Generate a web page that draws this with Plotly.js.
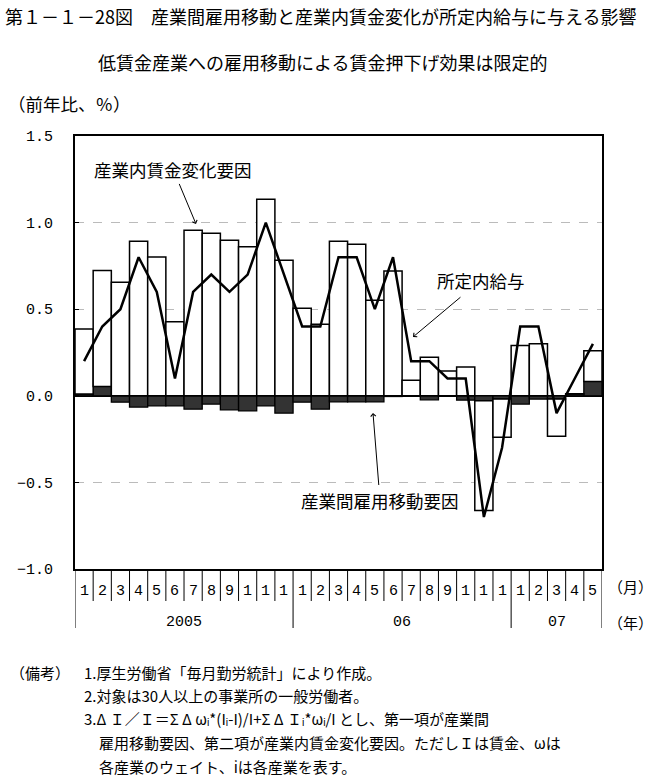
<!DOCTYPE html>
<html>
<head>
<meta charset="utf-8">
<script src="https://cdn.plot.ly/plotly-3.0.1.min.js"></script>
<style>
html,body{margin:0;padding:0;background:#fff;}
#chart{width:662px;height:780px;}
</style>
</head>
<body>
<div id="chart"></div>
<script>
// ---- data ----
const monthLabels = ['1','2','3','4','5','6','7','8','9','1','1','1',
                     '1','2','3','4','5','6','7','8','9','1','1','1',
                     '1','2','3','4','5'];
const yearLabels = ['2005','06','07'];
const yearSpans = [12, 12, 5];
// 産業間雇用移動要因
const shiftFactor = [0.01, 0.054, -0.037, -0.065, -0.058, -0.058, -0.077, -0.048, -0.081, -0.087, -0.058, -0.1,
                     -0.037, -0.077, -0.035, -0.035, -0.035, -0.004, -0.002, -0.023, -0.002, -0.025, -0.029, -0.019,
                     -0.048, -0.019, -0.019, 0.01, 0.083];
// 産業内賃金変化要因
const wageFactor = [0.375, 0.67, 0.656, 0.892, 0.802, 0.427, 0.956, 0.938, 0.898, 0.86, 1.135, 0.783,
                    0.506, 0.413, 0.892, 0.875, 0.552, 0.721, 0.09, 0.223, 0.143, 0.166, -0.633, -0.22,
                    0.29, 0.3, -0.215, 0.002, 0.177];
// 所定内給与
const scheduledWage = [0.2, 0.4, 0.5, 0.8, 0.6, 0.1, 0.6, 0.7, 0.6, 0.7, 1.0, 0.7,
                       0.4, 0.4, 0.8, 0.8, 0.5, 0.8, 0.2, 0.2, 0.1, 0.1, -0.7, -0.3,
                       0.4, 0.4, -0.1, 0.1, 0.3];

const idx = monthLabels.map((_, i) => i);

// ---- geometry helpers (pixel -> paper) ----
const L = 75, R = 602, T = 136, B = 569;
const px = x => (x - L) / (R - L);
const py = y => (B - y) / (B - T);

const JP = '"Noto Sans CJK JP", sans-serif';
const MONO = '"Liberation Mono", monospace';

const traces = [
  {type:'bar', x: idx, y: shiftFactor, width: 1,
   marker:{color:'#333333', line:{color:'#000', width:1.3}}, hoverinfo:'y', name:'産業間雇用移動要因'},
  {type:'bar', x: idx, y: wageFactor, width: 1,
   marker:{color:'#ffffff', line:{color:'#000', width:1.5}}, hoverinfo:'y', name:'産業内賃金変化要因'},
  {type:'scatter', mode:'lines', x: idx, y: scheduledWage,
   line:{color:'#000', width:2.5}, name:'所定内給与'}
];

const annotations = [];
const shapes = [];

// month labels
monthLabels.forEach((m, i) => {
  annotations.push({xref:'x', yref:'paper', x:i, y:py(591), text:m, showarrow:false,
    xanchor:'center', yanchor:'middle', font:{family:MONO, size:15, color:'#000'}});
});
// separators
let boundaries = new Set([-0.5]);
let acc = 0;
yearSpans.forEach(s => { acc += s; boundaries.add(acc - 0.5); });
for (let i = 0; i <= monthLabels.length; i++) {
  const xv = i - 0.5;
  const full = boundaries.has(xv);
  shapes.push({type:'line', xref:'x', yref:'paper', x0:xv, x1:xv, y0:0, y1: full ? py(628) : py(601),
    line:{color:'#000', width:1}});
}
// year labels
acc = 0;
yearLabels.forEach((y, k) => {
  const start = acc - 0.5, end = acc + yearSpans[k] - 0.5;
  acc += yearSpans[k];
  annotations.push({xref:'x', yref:'paper', x:(start + end) / 2, y:py(622), text:y, showarrow:false,
    xanchor:'center', yanchor:'middle', font:{family:MONO, size:15, color:'#000'}});
});
annotations.push({xref:'paper', yref:'paper', x:px(630), y:py(586), text:'（月）', showarrow:false,
  xanchor:'center', yanchor:'middle', font:{family:JP, size:15, color:'#000'}});
annotations.push({xref:'paper', yref:'paper', x:px(630), y:py(622), text:'（年）', showarrow:false,
  xanchor:'center', yanchor:'middle', font:{family:JP, size:15, color:'#000'}});

// subtitle & unit
annotations.push({xref:'paper', yref:'paper', x:px(322), y:py(62), text:'低賃金産業への雇用移動による賃金押下げ効果は限定的',
  showarrow:false, xanchor:'center', yanchor:'middle', font:{family:JP, size:18, color:'#000'}});
annotations.push({xref:'paper', yref:'paper', x:px(6), y:py(103), text:'（前年比、％）',
  showarrow:false, xanchor:'left', yanchor:'middle', font:{family:JP, size:17.5, color:'#000'}});

// callouts (text placed at arrow tail, arrow pointing to the head)
const callFont = {family:JP, size:17.5, color:'#000'};
function callout(text, tx, ty, hx, hy, standoff) {
  annotations.push({xref:'paper', yref:'paper', x:px(hx), y:py(hy), ax:tx - hx, ay:ty - hy,
    text:text, showarrow:true, arrowhead:4, arrowsize:1, arrowwidth:1, arrowcolor:'#000',
    startstandoff:standoff || 0, font:callFont});
}
callout('産業内賃金変化要因', 173, 169, 196, 224, 1);
callout('所定内給与', 481, 280, 413, 337, 5);
callout('産業間雇用移動要因', 380, 500, 373, 413, 1);

// notes
const noteFont = {family:JP, size:15, color:'#000'};
const notes = [
  [8, 672, '（備考）'],
  [82, 672, '1.厚生労働省「毎月勤労統計」により作成。'],
  [82, 695, '2.対象は30人以上の事業所の一般労働者。'],
  [82, 718, '3.Δ Ｉ／Ｉ＝Σ Δ ωᵢ*(Iᵢ-I)/I+Σ Δ Ｉᵢ*ωᵢ/I とし、第一項が産業間'],
  [97, 742, '雇用移動要因、第二項が産業内賃金変化要因。ただしＩは賃金、ωは'],
  [97, 766, '各産業のウェイト、iは各産業を表す。']
];
notes.forEach(n => annotations.push({xref:'paper', yref:'paper', x:px(n[0]), y:py(n[1]), text:n[2],
  showarrow:false, xanchor:'left', yanchor:'middle', font:noteFont}));

const layout = {
  width:662, height:780,
  margin:{l:L, r:662 - R, t:T, b:780 - B, pad:0},
  paper_bgcolor:'#fff', plot_bgcolor:'#fff',
  showlegend:false,
  barmode:'relative', bargap:0,
  title:{text:'第１－１－28図　産業間雇用移動と産業内賃金変化が所定内給与に与える影響',
    x:5/662, xanchor:'left', y:1 - 18/780, yanchor:'middle',
    font:{family:JP, size:18, color:'#000'}},
  xaxis:{range:[-0.5, monthLabels.length - 0.5], showticklabels:false, ticks:'',
    showline:true, mirror:true, linecolor:'#000', linewidth:2, showgrid:false, zeroline:false, fixedrange:true},
  yaxis:{range:[-1, 1.5], tick0:0, dtick:0.5, tickformat:'.1f', ticks:'inside', ticklen:4, tickcolor:'#000',
    showline:true, mirror:true, linecolor:'#000', linewidth:2,
    showgrid:true, gridcolor:'#bbbbbb', griddash:'dash', gridwidth:1,
    zeroline:true, zerolinecolor:'#000', zerolinewidth:2,
    ticklabelstandoff:17, tickfont:{family:MONO, size:15, color:'#000'}, fixedrange:true},
  annotations, shapes
};

Plotly.newPlot('chart', traces, layout, {displayModeBar:false, staticPlot:true});
</script>
</body>
</html>
